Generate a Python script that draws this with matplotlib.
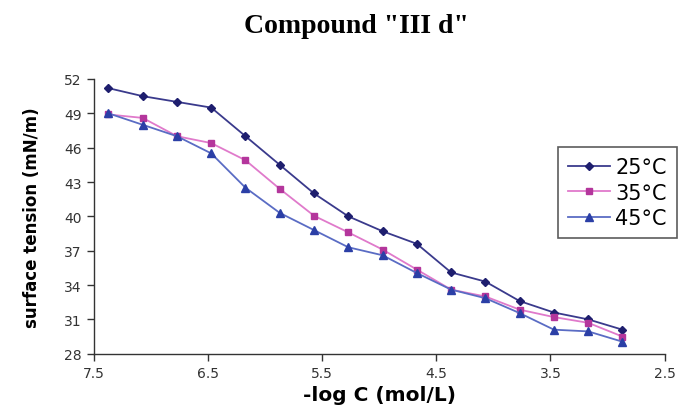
import matplotlib
matplotlib.use("Agg")
import matplotlib.pyplot as plt

neg_log_c = [7.37, 7.07, 6.77, 6.47, 6.17, 5.87, 5.57, 5.27, 4.97, 4.67, 4.37, 4.07, 3.77, 3.47, 3.17, 2.87]
st_25 = [51.2, 50.5, 50.0, 49.5, 47.0, 44.5, 42.0, 40.0, 38.7, 37.6, 35.1, 34.3, 32.6, 31.6, 31.0, 30.1]
st_35 = [48.9, 48.6, 47.0, 46.4, 44.9, 42.4, 40.05, 38.6, 37.1, 35.35, 33.6, 33.0, 31.85, 31.2, 30.7, 29.5]
st_45 = [49.0, 48.0, 47.0, 45.5, 42.5, 40.3, 38.8, 37.3, 36.6, 35.05, 33.6, 32.85, 31.55, 30.1, 29.95, 29.05]
labels = ["25°C", "35°C", "45°C"]
x_ticks = [7.5, 6.5, 5.5, 4.5, 3.5, 2.5]
y_ticks = [28, 31, 34, 37, 40, 43, 46, 49, 52]

fig = plt.figure(figsize=(6.8, 4.14), dpi=100)
ax = fig.add_axes([0.1376, 0.1432, 0.8399, 0.6636])

ax.plot(neg_log_c, st_25, color="#3A3A8C", lw=1.3, marker="D", ms=4.5,
        mfc="#1E1E6E", mec="#1E1E6E", label=labels[0])
ax.plot(neg_log_c, st_35, color="#E07ACB", lw=1.3, marker="s", ms=5,
        mfc="#B4369C", mec="#B4369C", label=labels[1])
ax.plot(neg_log_c, st_45, color="#5A6CC4", lw=1.3, marker="^", ms=6,
        mfc="#2B3FA6", mec="#2B3FA6", label=labels[2])

ax.set_xlim(7.5, 2.5)
ax.set_ylim(28, 52)
ax.set_xticks(x_ticks)
ax.set_xticklabels([f"{v:.1f}" for v in x_ticks])
ax.set_yticks(y_ticks)
for s in ["top", "right"]:
    ax.spines[s].set_visible(False)
for s in ["left", "bottom"]:
    ax.spines[s].set_color("#333333")
    ax.spines[s].set_linewidth(1.0)
ax.tick_params(axis="both", direction="out", length=5, width=1, color="#333333",
               labelsize=10, labelcolor="#333333")

ax.set_xlabel("-log C (mol/L)", fontsize=14.5, fontweight="bold", labelpad=4)
ax.set_ylabel("surface tension (mN/m)", fontsize=12, fontweight="bold", labelpad=17)

fig.text(0.5235, 0.937, 'Compound "III d"', ha="center", va="center",
         fontsize=20, fontweight="bold", family="Liberation Serif")

leg = ax.legend(loc="upper right", bbox_to_anchor=(1.0215, 0.7525), fontsize=15,
                frameon=True, fancybox=False, handlelength=2.0, handletextpad=0.25,
                borderpad=0.5, labelspacing=0.25, borderaxespad=0)
leg.get_frame().set_edgecolor("#333333")
leg.get_frame().set_linewidth(1.2)

fig.savefig("out.png", dpi=100)
